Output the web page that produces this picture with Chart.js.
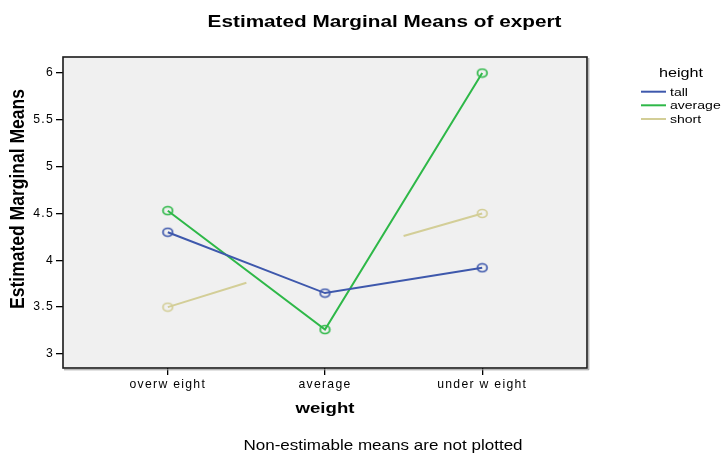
<!DOCTYPE html>
<html><head><meta charset="utf-8">
<script src="https://cdn.jsdelivr.net/npm/chart.js@4/dist/chart.umd.min.js"></script>
<style>html,body{margin:0;padding:0;background:#fff;}</style>
</head><body>
<canvas id="c" width="725" height="459"></canvas>
<script>
// ---- data ----
const categories = ['overw eight', 'average', 'under w eight'];
const seriesNames = ['tall', 'average', 'short'];
const tallValues = [4.30, 3.65, 3.92];
const averageValues = [4.53, 3.26, 6.00];
const shortValues = [3.50, null, 4.50];          // average weight: non-estimable
const shortStubEnds = [3.76, 4.26];               // half-segments drawn toward the missing mean
const yTicks = [3, 3.5, 4, 4.5, 5, 5.5, 6];
const colors = ['#3E58AC', '#2EB848', '#D3CE97'];

const FONT = '"Liberation Sans", Arial, sans-serif';

function ring(color) {
  const c = document.createElement('canvas');
  c.width = 13; c.height = 11;
  const g = c.getContext('2d');
  g.strokeStyle = color; g.lineWidth = 1.7;
  g.beginPath(); g.ellipse(6.5, 5.5, 4.8, 4.0, 0, 0, Math.PI * 2); g.stroke();
  return c;
}

const toPts = vals => vals.map((v, i) => ({ x: i, y: v }));
const shortPts = [
  { x: 0, y: shortValues[0] },
  { x: 0.5, y: shortStubEnds[0] },
  { x: 1, y: shortValues[1] },
  { x: 1.5, y: shortStubEnds[1] },
  { x: 2, y: shortValues[2] }
];
const allData = [toPts(tallValues), toPts(averageValues), shortPts];

const datasets = seriesNames.map((name, k) => ({
  label: name,
  data: allData[k],
  borderColor: colors[k],
  backgroundColor: colors[k],
  borderWidth: 2,
  pointStyle: ring(colors[k]),
  pointRadius: ctx => (ctx.raw && Number.isInteger(ctx.raw.x)) ? 4.5 : 0,
  pointHoverRadius: 0,
  spanGaps: false,
  tension: 0
}));

function stretchText(ctx, text, x, y, font, align, rot, baseline) {
  ctx.save();
  ctx.translate(x, y);
  ctx.scale(1.2, 1);
  if (rot) ctx.rotate(rot);
  ctx.font = font;
  ctx.letterSpacing = '0px';
  ctx.textAlign = align;
  ctx.textBaseline = baseline || 'alphabetic';
  ctx.fillStyle = '#000';
  ctx.fillText(text, 0, 0);
  ctx.restore();
}

const decor = {
  id: 'decor',
  beforeDraw(chart) {
    const { ctx, chartArea: a } = chart;
    ctx.save();
    ctx.fillStyle = '#F0F0F0';
    ctx.fillRect(a.left, a.top, a.right - a.left, a.bottom - a.top);
    ctx.restore();
    ctx.letterSpacing = '1.3px';
  },
  afterDraw(chart) {
    const { ctx, chartArea: a } = chart;
    ctx.letterSpacing = '0px';
    ctx.save();
    // frame with slight shadow
    ctx.strokeStyle = '#9a9a9a'; ctx.lineWidth = 1;
    ctx.beginPath();
    ctx.moveTo(a.right + 1.8, a.top + 1); ctx.lineTo(a.right + 1.8, a.bottom + 1.8); ctx.lineTo(a.left + 1, a.bottom + 1.8);
    ctx.stroke();
    ctx.strokeStyle = '#1a1a1a'; ctx.lineWidth = 1.6;
    ctx.strokeRect(a.left, a.top, a.right - a.left, a.bottom - a.top);
    ctx.restore();

    stretchText(ctx, 'Estimated Marginal Means of expert', 384.5, 26.5, 'bold 17.3px ' + FONT, 'center');
    stretchText(ctx, 'weight', 325, 412.5, 'bold 15.5px ' + FONT, 'center');
    stretchText(ctx, 'Non-estimable means are not plotted', 383, 449.5, '14.2px ' + FONT, 'center');
    stretchText(ctx, 'Estimated Marginal Means', 18, 199, 'bold 17.5px ' + FONT, 'center', -Math.PI / 2, 'middle');

    // legend
    stretchText(ctx, 'height', 681, 76.5, '13.5px ' + FONT, 'center');
    const ly = [91.7, 105.3, 119];
    chart.data.datasets.forEach((ds, k) => {
      ctx.save();
      ctx.strokeStyle = ds.borderColor; ctx.lineWidth = 2;
      ctx.beginPath(); ctx.moveTo(641, ly[k]); ctx.lineTo(666, ly[k]); ctx.stroke();
      ctx.restore();
      stretchText(ctx, ds.label, 670, ly[k] + 4, '11.7px ' + FONT, 'left');
    });
  }
};

new Chart(document.getElementById('c'), {
  type: 'line',
  data: { datasets },
  plugins: [decor],
  options: {
    responsive: false,
    animation: false,
    events: [],
    layout: { padding: { top: 57, right: 138, bottom: 0, left: 0 } },
    plugins: { legend: { display: false }, title: { display: false }, tooltip: { enabled: false } },
    scales: {
      x: {
        type: 'linear',
        min: -2 / 3, max: 8 / 3,
        afterBuildTicks: s => { s.ticks = categories.map((_, i) => ({ value: i })); },
        afterFit: s => { s.height = 91; },
        ticks: {
          autoSkip: false, maxRotation: 0, padding: 2, color: '#000',
          font: { family: FONT, size: 12.2 },
          callback: v => categories[v] ?? ''
        },
        grid: { drawOnChartArea: false, drawTicks: true, tickLength: 7, color: '#000', lineWidth: 1.3 },
        border: { display: false }
      },
      y: {
        type: 'linear',
        min: 2.85, max: 6.171,
        afterBuildTicks: s => { s.ticks = yTicks.map(v => ({ value: v })); },
        afterFit: s => { s.width = 63; },
        ticks: {
          padding: 2, color: '#000',
          font: { family: FONT, size: 12.2 },
          callback: v => String(v)
        },
        grid: { drawOnChartArea: false, drawTicks: true, tickLength: 7, color: '#000', lineWidth: 1.3 },
        border: { display: false }
      }
    }
  }
});
</script>
</body></html>
